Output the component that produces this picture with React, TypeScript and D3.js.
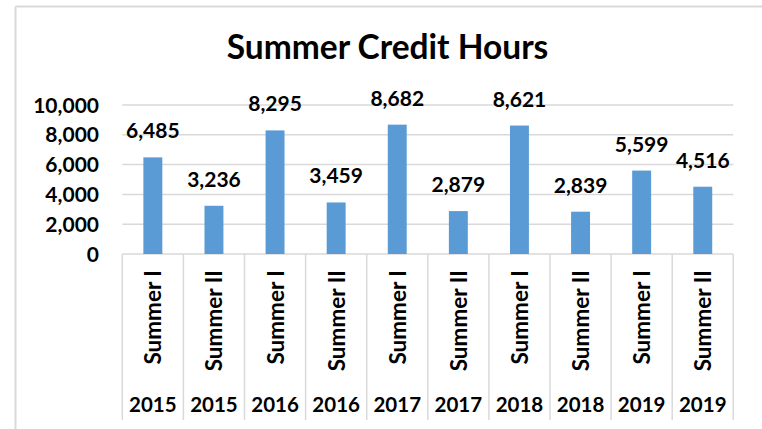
import React from 'react';
import * as d3 from 'd3';

const years = ['2015', '2015', '2016', '2016', '2017', '2017', '2018', '2018', '2019', '2019'];
const sessions = ['Summer I', 'Summer II', 'Summer I', 'Summer II', 'Summer I', 'Summer II', 'Summer I', 'Summer II', 'Summer I', 'Summer II'];
const values = [6485, 3236, 8295, 3459, 8682, 2879, 8621, 2839, 5599, 4516];
const yTicks = [0, 2000, 4000, 6000, 8000, 10000];
const title = 'Summer Credit Hours';

const W = 762;
const H = 429;
const FONT = 'Lato, "Open Sans", sans-serif';

export default function App() {
  const idx = values.map((_, i) => i);
  const x = d3.scaleBand<number>().domain(idx).range([122.3, 733.3]).padding(0);
  const y = d3.scaleLinear().domain([0, 10000]).range([254, 105]);
  const bw = x.bandwidth() * 0.31;
  const fmt = d3.format(',');
  const gridColor = '#d9d9d9';
  const axisBottom = 420;

  return (
    <svg width={W} height={H} style={{ position: 'absolute', left: 0, top: 0 }} fontFamily={FONT}>
      <rect x={0} y={0} width={W} height={H} fill="#fff" />
      {/* chart border (left & top visible) */}
      <line x1={15.5} y1={6.5} x2={15.5} y2={H} stroke={gridColor} strokeWidth={2} />
      <line x1={15.5} y1={6.5} x2={W} y2={6.5} stroke={gridColor} strokeWidth={2} />

      <text x={387.5} y={58.5} textAnchor="middle" fontSize={33.5} fontWeight={700} fill="#000">
        {title}
      </text>

      {yTicks.map((t) => (
        <g key={t}>
          {t > 0 && (
            <line x1={x.range()[0]} x2={x.range()[1]} y1={y(t)} y2={y(t)} stroke={gridColor} strokeWidth={1.5} />
          )}
          <text x={99} y={y(t)} dy="0.36em" textAnchor="end" fontSize={21} fontWeight={700} fill="#000">
            {fmt(t)}
          </text>
        </g>
      ))}

      {/* category axis */}
      <line x1={x.range()[0]} x2={x.range()[1]} y1={y(0)} y2={y(0)} stroke={gridColor} strokeWidth={1.5} />
      {idx.concat([idx.length]).map((i) => {
        const xx = i < idx.length ? (x(i) as number) : x.range()[1];
        return <line key={'s' + i} x1={xx} x2={xx} y1={y(0)} y2={axisBottom} stroke={gridColor} strokeWidth={1.5} />;
      })}

      {values.map((v, i) => {
        const cx = (x(i) as number) + x.bandwidth() / 2;
        return (
          <g key={i}>
            <rect x={cx - bw / 2} y={y(v)} width={bw} height={y(0) - y(v)} fill="#5b9bd5" />
            <text x={cx} y={y(v) - 19} textAnchor="middle" fontSize={21} fontWeight={700} fill="#000">
              {fmt(v)}
            </text>
            <text
              transform={`translate(${cx + 8.5},270) rotate(-90)`}
              textAnchor="end"
              fontSize={22.5}
              fontWeight={700}
              fill="#000"
            >
              {sessions[i]}
            </text>
            <text x={cx} y={411.7} textAnchor="middle" fontSize={20.5} fontWeight={700} fill="#000">
              {years[i]}
            </text>
          </g>
        );
      })}
    </svg>
  );
}
